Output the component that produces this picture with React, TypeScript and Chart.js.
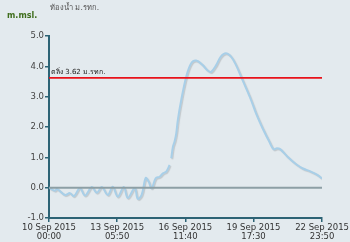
import React, { useEffect, useRef } from "react";
import Chart from "chart.js/auto";

// hours since 10 Sep 2015 00:00
const hours = [
  0, 6.8, 9.1, 18.2, 23.9, 28.5, 35.3, 41.0, 48.9, 54.6, 60.3, 67.1, 72.8, 78.5,
  85.4, 89.9, 97.9, 101.3, 105.8, 110.4, 113.8, 117.2, 121.8, 126.3, 130.1, 133.9,
  137.7, 138.6, 139.6, 141.5, 143.4, 145.3, 147.1, 151.0, 156.7, 162.4, 168.1,
  175.6, 181.3, 185.2, 190.9, 196.2, 201.9, 207.9, 213.6, 219.3, 225.0, 230.7,
  236.4, 243.9, 251.5, 256.4, 260.3, 264.0, 272.4, 281.9, 289.4, 299.0, 306.5, 311.8,
];
const level: (number | null)[] = [
  0.0, -0.1, -0.04, -0.24, -0.18, -0.28, -0.01, -0.26, 0.02, -0.17, 0.02, -0.24,
  0.03, -0.3, 0.02, -0.34, -0.01, -0.37, -0.24, 0.32, 0.2, -0.02, 0.31, 0.36, 0.47,
  0.53, 0.75, null, 0.97, 1.35, 1.52, 1.79, 2.23, 2.89, 3.66, 4.1, 4.19, 4.04,
  3.86, 3.82, 4.04, 4.32, 4.43, 4.32, 4.04, 3.66, 3.28, 2.89, 2.45, 1.96, 1.52,
  1.27, 1.3, 1.27, 1.02, 0.78, 0.64, 0.53, 0.42, 0.3,
];
const bankLevel = 3.62;
const maxHours = 311.83;
const xTickHours = [0, 77.83, 155.67, 233.5, 311.83];
const xTickLabels = [
  ["10 Sep 2015", "00:00"],
  ["13 Sep 2015", "05:50"],
  ["16 Sep 2015", "11:40"],
  ["19 Sep 2015", "17:30"],
  ["22 Sep 2015", "23:50"],
];
const titleText = "ท้องน้ำ ม.รทก.";
const unitText = "m.msl.";
const bankText = "ตลิ่ง 3.62 ม.รทก.";

const AXIS = "#2d6375";
const FONT = "'DejaVu Sans', 'Noto Sans', sans-serif";

export default function App() {
  const ref = useRef<HTMLCanvasElement | null>(null);
  useEffect(() => {
    if (!ref.current) return;
    const textPlugin = {
      id: "texts",
      afterDraw(chart: any) {
        const ctx = chart.ctx;
        const y = chart.scales.y;
        ctx.save();
        ctx.textBaseline = "middle";
        ctx.fillStyle = "#555";
        ctx.font = `7.5px ${FONT}`;
        ctx.textAlign = "left";
        ctx.fillText(titleText, 50, 8);
        ctx.fillStyle = "#3f6e1c";
        ctx.font = `bold 8px ${FONT}`;
        ctx.fillText(unitText, 7, 16);
        ctx.fillStyle = "#222";
        ctx.font = `7px ${FONT}`;
        ctx.fillText(bankText, chart.chartArea.left + 2, y.getPixelForValue(bankLevel) - 6);
        ctx.restore();
      },
    };
    const shadowPlugin = {
      id: "shadow",
      beforeDatasetDraw(chart: any, args: any) {
        if (args.index === 2) {
          chart.ctx.save();
          chart.ctx.shadowColor = "rgba(0,0,0,0.15)";
          chart.ctx.shadowOffsetX = 1;
          chart.ctx.shadowOffsetY = 1;
          chart.ctx.shadowBlur = 1;
        }
      },
      afterDatasetDraw(chart: any, args: any) {
        if (args.index === 2) chart.ctx.restore();
      },
    };
    const chart = new Chart(ref.current, {
      type: "line",
      data: {
        datasets: [
          {
            data: [
              { x: 0, y: 0 },
              { x: maxHours, y: 0 },
            ],
            borderColor: "#8d9fa5",
            borderWidth: 2,
            pointRadius: 0,
          },
          {
            data: [
              { x: 0, y: bankLevel },
              { x: maxHours, y: bankLevel },
            ],
            borderColor: "#e8121a",
            borderWidth: 1.6,
            pointRadius: 0,
          },
          {
            data: hours.map((h, i) => ({ x: h, y: level[i] })),
            borderColor: "#a8cfe8",
            borderWidth: 2,
            pointRadius: 0,
            tension: 0.35,
            spanGaps: false,
          },
        ],
      } as any,
      options: {
        animation: false,
        responsive: false,
        maintainAspectRatio: false,
        layout: { padding: { left: 0, top: 36, right: 27, bottom: 0 } },
        plugins: { legend: { display: false }, tooltip: { enabled: false } },
        scales: {
          x: {
            type: "linear",
            min: 0,
            max: maxHours,
            afterBuildTicks(scale: any) {
              scale.ticks = xTickHours.map((v) => ({ value: v }));
            },
            afterFit(scale: any) {
              scale.height = 24;
            },
            ticks: {
              autoSkip: false,
              maxRotation: 0,
              padding: 1,
              color: "#333",
              font: { family: FONT, size: 8.5, lineHeight: 1.1 },
              callback: (_v: any, i: number) => xTickLabels[i],
            },
            grid: { display: true, drawOnChartArea: false, drawTicks: true, tickLength: 4, color: AXIS, lineWidth: 1.5 },
            border: { display: true, color: AXIS, width: 2 },
          },
          y: {
            min: -1,
            max: 5,
            afterFit(scale: any) {
              scale.width = 49;
            },
            ticks: {
              stepSize: 1,
              padding: 1,
              color: "#444",
              font: { family: FONT, size: 8.5 },
              callback: (v: any) => Number(v).toFixed(1),
            },
            grid: { display: true, drawOnChartArea: false, drawTicks: true, tickLength: 4, color: AXIS, lineWidth: 1.5 },
            border: { display: true, color: AXIS, width: 2 },
          },
        },
      } as any,
      plugins: [textPlugin, shadowPlugin],
    });
    return () => chart.destroy();
  }, []);
  return (
    <div style={{ position: "absolute", left: 0, top: 0, width: 350, height: 242, background: "#e3eaee" }}>
      <canvas ref={ref} width={350} height={242} style={{ display: "block", width: 350, height: 242 }} />
    </div>
  );
}
